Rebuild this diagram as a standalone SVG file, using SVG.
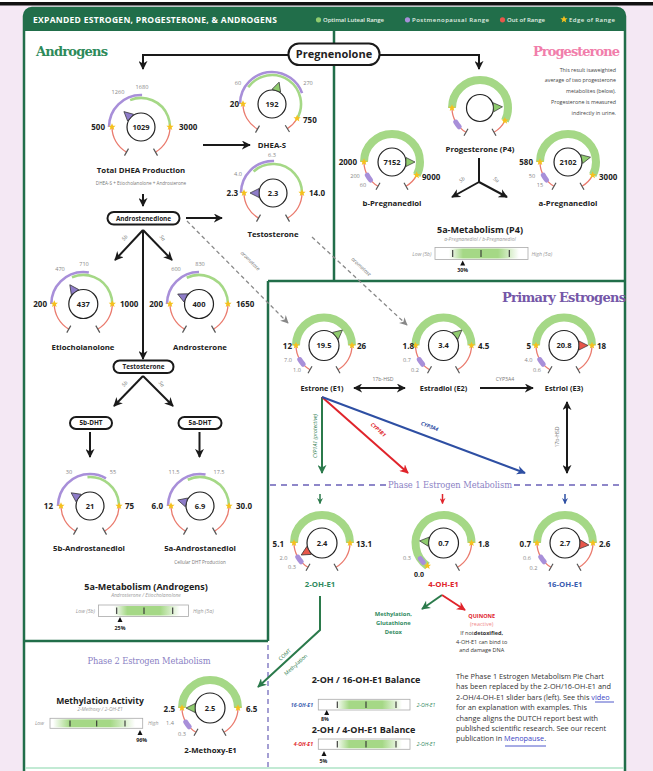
<svg xmlns="http://www.w3.org/2000/svg" width="653" height="771" viewBox="0 0 653 771">
<defs>
<style>
text{font-family:"Open Sans","Liberation Sans",sans-serif;fill:#222}
.t{font-weight:700;font-size:7.8px;text-anchor:middle}
.v{font-weight:700;font-size:7.5px;text-anchor:middle}
.bl{font-weight:700;font-size:8px}
.r{text-anchor:end}
.m{text-anchor:middle}
.gl{font-size:5.6px;fill:#888;text-anchor:middle}
.sub{font-size:4.6px;fill:#777;text-anchor:middle}
.it{font-style:italic}
.ser{font-family:"DejaVu Serif","Liberation Serif",serif;font-weight:700}
.box{fill:#fff;stroke:#1a1a1a;stroke-width:2}
.bt{font-weight:700;font-size:6.4px;text-anchor:middle}
.ic{fill:#fff;stroke:#222;stroke-width:1.2}
.pu{fill:none;stroke:#a88fd9;stroke-width:2.6}
.gr{fill:none;stroke:#a5d886;stroke-width:2.6}
.grk{fill:none;stroke:#a5d886;stroke-width:8}
.rd{fill:none;stroke:#ea7b6e;stroke-width:1.3}
.puk{fill:none;stroke:#a88fd9;stroke-width:5;stroke-linecap:round}
.tk{stroke:#555;stroke-width:1.2}
.pp{fill:#8e7cc9;stroke:#333;stroke-width:0.7}
.pg{fill:#8fcb6e;stroke:#333;stroke-width:0.7}
.pr{fill:#e8574a;stroke:#333;stroke-width:0.7}
.ar{fill:none;stroke:#1a1a1a;stroke-width:2}
.cl{font-size:5.2px;fill:#777;text-anchor:middle;font-style:italic}
.bar{fill:#fff;stroke:#aaa;stroke-width:0.8}
.btk{stroke:#333;stroke-width:1.1}
.bh{font-weight:700;font-size:9px;text-anchor:middle}
.bs{font-size:5px;fill:#999;font-style:italic;text-anchor:middle}
.lo{font-size:5.2px;fill:#999;font-style:italic}
.pct{font-weight:700;font-size:5.3px;text-anchor:middle}
.para{font-size:7.3px;fill:#333}
.lk{fill:#3b46c4}
.lg{font-size:6px;fill:#e4f1e7;font-weight:600}
</style>
<marker id="mk" viewBox="0 0 10 10" refX="9" refY="5" markerWidth="9" markerHeight="9" markerUnits="userSpaceOnUse" orient="auto-start-reverse"><path d="M0,0 L10,5 L0,10 L3,5Z" fill="#1a1a1a"/></marker>
<marker id="mkg" viewBox="0 0 10 10" refX="9" refY="5" markerWidth="9" markerHeight="9" markerUnits="userSpaceOnUse" orient="auto"><path d="M0,0 L10,5 L0,10 L3,5Z" fill="#2b7a4b"/></marker>
<marker id="mkr" viewBox="0 0 10 10" refX="9" refY="5" markerWidth="9" markerHeight="9" markerUnits="userSpaceOnUse" orient="auto"><path d="M0,0 L10,5 L0,10 L3,5Z" fill="#e0242b"/></marker>
<marker id="mkb" viewBox="0 0 10 10" refX="9" refY="5" markerWidth="9" markerHeight="9" markerUnits="userSpaceOnUse" orient="auto"><path d="M0,0 L10,5 L0,10 L3,5Z" fill="#2e4fa3"/></marker>
<marker id="mky" viewBox="0 0 10 10" refX="9" refY="5" markerWidth="8" markerHeight="8" markerUnits="userSpaceOnUse" orient="auto"><path d="M0,0 L10,5 L0,10 L3,5Z" fill="#888"/></marker>
<marker id="sg" viewBox="0 0 10 10" refX="9" refY="5" markerWidth="6" markerHeight="6" markerUnits="userSpaceOnUse" orient="auto"><path d="M0,0 L10,5 L0,10 L3,5Z" fill="#2b7a4b"/></marker>
<marker id="sr" viewBox="0 0 10 10" refX="9" refY="5" markerWidth="6" markerHeight="6" markerUnits="userSpaceOnUse" orient="auto"><path d="M0,0 L10,5 L0,10 L3,5Z" fill="#e0242b"/></marker>
<marker id="sb" viewBox="0 0 10 10" refX="9" refY="5" markerWidth="6" markerHeight="6" markerUnits="userSpaceOnUse" orient="auto"><path d="M0,0 L10,5 L0,10 L3,5Z" fill="#2e4fa3"/></marker>
<linearGradient id="gb"><stop offset="0" stop-color="#a5d886" stop-opacity="0"/><stop offset="0.2" stop-color="#a5d886"/><stop offset="0.7" stop-color="#a5d886"/><stop offset="1" stop-color="#a5d886" stop-opacity="0"/></linearGradient>
<path id="st" d="M0,-3.8 L1.1,-1.2 3.6,-1.2 1.6,0.5 2.3,3.1 0,1.6 -2.3,3.1 -1.6,0.5 -3.6,-1.2 -1.1,-1.2Z" fill="#f5c11d"/>
</defs>

<rect width="653" height="771" fill="#f4e8f4"/>
<rect width="653" height="2" fill="#fff"/>
<rect y="2" width="653" height="3.5" fill="#111"/>

<g id="frame">
<rect x="24" y="8" width="601" height="790" rx="8" fill="#fff" stroke="#216e4a" stroke-width="2.5"/>
<path d="M24,31 V16 A8,8 0 0 1 32,8 H617 A8,8 0 0 1 625,16 V31 Z" fill="#216e4a"/>
<path d="M334,31 V281 M268,281 H625 M268,281 V641 M24,641 H268" fill="none" stroke="#216e4a" stroke-width="2.5"/>
<line x1="25" y1="768" x2="624" y2="768" stroke="#aee3c6" stroke-width="1.5"/>
<line x1="268" y1="645" x2="268" y2="771" stroke="#8e87c9" stroke-width="1.6" stroke-dasharray="5 4"/>
</g>

<g id="header">
<text x="33" y="22.5" fill="#fff" style="fill:#fff;font-weight:700;font-size:8.5px" textLength="244">EXPANDED ESTROGEN, PROGESTERONE, &amp; ANDROGENS</text>
<circle cx="318.5" cy="19.8" r="2.6" fill="#8fcb6e"/><text class="lg" x="323" y="22" textLength="61">Optimal Luteal Range</text>
<circle cx="407.5" cy="19.8" r="2.6" fill="#a88fd9"/><text class="lg" x="412" y="22" textLength="77">Postmenopausal Range</text>
<circle cx="502.5" cy="19.8" r="2.6" fill="#e8574a"/><text class="lg" x="507" y="22" textLength="38">Out of Range</text>
<use href="#st" x="564" y="19.5"/><text class="lg" x="569" y="22" textLength="46">Edge of Range</text>
</g>

<g id="titles">
<text class="ser" x="36" y="56" style="fill:#2d8a5a;font-size:13px" textLength="72">Androgens</text>
<text class="ser" x="620" y="56" style="fill:#f17eab;font-size:13px" text-anchor="end" textLength="87">Progesterone</text>
<text class="ser" x="502" y="302" style="fill:#7557a8;font-size:13px" textLength="124">Primary Estrogens</text>
<text x="450" y="488" style="font-family:'DejaVu Serif','Liberation Serif',serif;font-size:8.3px;fill:#8a7fc4" text-anchor="middle" textLength="124">Phase 1 Estrogen Metabolism</text>
<text x="149" y="663.5" style="font-family:'DejaVu Serif','Liberation Serif',serif;font-size:8.3px;fill:#8a7fc4" text-anchor="middle" textLength="123">Phase 2 Estrogen Metabolism</text>
<path d="M270,485 H386 M514,485 H624" fill="none" stroke="#8e87c9" stroke-width="1.8" stroke-dasharray="6 5"/>
</g>

<g id="connectors">
<path class="ar" d="M288.5,55 H143 V69" marker-end="url(#mk)"/>
<path class="ar" d="M379.5,55 H479 V69" marker-end="url(#mk)"/>
<path class="ar" d="M203,145 H250" marker-end="url(#mk)"/>
<path class="ar" d="M143,194 V206" marker-end="url(#mk)"/>
<path class="ar" d="M186,218 H222" marker-end="url(#mk)"/>
<path class="ar" d="M143,230 L115,260" marker-end="url(#mk)"/>
<path class="ar" d="M143,230 L172,260" marker-end="url(#mk)"/>
<path class="ar" d="M143,230 V359" marker-end="url(#mk)"/>
<path class="ar" d="M143,376 L114,406" marker-end="url(#mk)"/>
<path class="ar" d="M143,376 L173,406" marker-end="url(#mk)"/>
<path class="ar" d="M90,432 V457" marker-end="url(#mk)"/>
<path class="ar" d="M199.5,432 V457" marker-end="url(#mk)"/>
<path class="ar" d="M479,158 V182"/>
<path class="ar" d="M479,182 L452,197" marker-end="url(#mk)"/>
<path class="ar" d="M479,182 L507,197" marker-end="url(#mk)"/>
<path d="M187,221 L288,323" fill="none" stroke="#888" stroke-width="1.3" stroke-dasharray="4 3" marker-end="url(#mky)"/>
<path d="M312,237 L407,325" fill="none" stroke="#888" stroke-width="1.3" stroke-dasharray="4 3" marker-end="url(#mky)"/>
<path class="ar" d="M354,388 H405" stroke-width="1.8" marker-start="url(#mk)" marker-end="url(#mk)"/>
<path class="ar" d="M480,388 H533" stroke-width="1.8" marker-end="url(#mk)"/>
<path class="ar" d="M567,402 V473" stroke-width="1.8" marker-start="url(#mk)" marker-end="url(#mk)"/>
<path d="M322,397 V473" fill="none" stroke="#2b7a4b" stroke-width="2" marker-end="url(#mkg)"/>
<path d="M322,397 L408,473" fill="none" stroke="#e0242b" stroke-width="2" marker-end="url(#mkr)"/>
<path d="M322,397 L525,473" fill="none" stroke="#2e4fa3" stroke-width="2" marker-end="url(#mkb)"/>
<path d="M320,494 V503.5" fill="none" stroke="#2b7a4b" stroke-width="1.5" marker-end="url(#sg)"/>
<path d="M442.5,494 V503.5" fill="none" stroke="#e0242b" stroke-width="1.5" marker-end="url(#sr)"/>
<path d="M565,494 V503.5" fill="none" stroke="#2e4fa3" stroke-width="1.5" marker-end="url(#sb)"/>
<path d="M442,595 L422,609" fill="none" stroke="#2b7a4b" stroke-width="2" marker-end="url(#mkg)"/>
<path d="M442,595 L465,610" fill="none" stroke="#e0242b" stroke-width="2" marker-end="url(#mkr)"/>
<path d="M320,596 V630 L258,687" fill="none" stroke="#2b7a4b" stroke-width="2" marker-end="url(#mkg)"/>
<text class="cl" transform="translate(126,239) rotate(-50)">5b</text>
<text class="cl" transform="translate(161,239) rotate(50)">5a</text>
<text class="cl" transform="translate(126,385) rotate(-50)">5b</text>
<text class="cl" transform="translate(160,385) rotate(50)">5a</text>
<text class="cl" transform="translate(463,181) rotate(-40)">5b</text>
<text class="cl" transform="translate(495,181) rotate(40)">5a</text>
<text class="cl" transform="translate(249,262) rotate(45)">aromatase</text>
<text class="cl" transform="translate(360,268) rotate(43)">aromatase</text>
<text class="cl" x="383" y="381" style="font-style:normal">17b-HSD</text>
<text class="cl" x="505" y="381" style="font-style:normal">CYP3A4</text>
<text class="cl" transform="translate(559,437) rotate(-90)" style="font-style:normal">17b-HSD</text>
<text class="cl" transform="translate(317,436) rotate(-90)" style="fill:#2b7a4b">CYP1A1 (protective)</text>
<text class="cl" transform="translate(377,431) rotate(41.5)" style="fill:#e0242b;font-weight:700">CYP1B1</text>
<text class="cl" transform="translate(429,428) rotate(20.5)" style="fill:#2e4fa3;font-weight:700">CYP3A4</text>
<text class="cl" transform="translate(286,656) rotate(-42.6)" style="fill:#2b7a4b;font-style:normal">COMT</text>
<text class="cl" transform="translate(297,666) rotate(-42.6)" style="fill:#2b7a4b;font-style:normal">Methylation</text>
</g>

<g id="pregnenolone"><rect class="box" x="288.5" y="43.5" width="91" height="21.5" rx="10.5" stroke-width="2.5"/><text x="334" y="58.3" style="font-weight:700;font-size:11px" text-anchor="middle">Pregnenolone</text></g>
<g id="androstenedione"><rect class="box" x="107.5" y="212" width="72" height="12.5" rx="6.25"/><text class="bt" x="143.5" y="220.6">Androstenedione</text></g>
<g id="testosterone-box"><rect class="box" x="113.5" y="360.5" width="60" height="12.5" rx="6.25"/><text class="bt" x="143.5" y="369.2">Testosterone</text></g>
<g id="dht-5b"><rect class="box" x="70" y="417" width="42" height="12" rx="6"/><text class="bt" x="91" y="425.3">5b-DHT</text></g>
<g id="dht-5a"><rect class="box" x="178.5" y="417" width="43" height="12" rx="6"/><text class="bt" x="200" y="425.3">5a-DHT</text></g>

<g id="total-dhea">
<g transform="translate(141,127)">
<circle class="pu" r="32" pathLength="360" stroke-dasharray="92 400" transform="rotate(180)"/>
<circle class="gr" r="29" pathLength="360" stroke-dasharray="112 400" transform="rotate(248)"/>
<circle class="rd" r="29" pathLength="360" stroke-dasharray="60 400" transform="rotate(120)"/>
<circle class="rd" r="29" pathLength="360" stroke-dasharray="60 400"/>
<line class="tk" x1="25" x2="33" transform="rotate(120)"/><line class="tk" x1="25" x2="33" transform="rotate(60)"/>
<use href="#st" x="-29"/><use href="#st" x="29"/>
<circle class="ic" r="14"/>
<polygon class="pp" points="14,-4.5 23,0 14,4.5" transform="rotate(222)"/>
<text class="v" y="2.7">1029</text>
</g>
<text class="gl" x="118" y="94">1260</text><text class="gl" x="142" y="89">1680</text>
<text class="bl r" x="105" y="130">500</text><text class="bl" x="179" y="130">3000</text>
<text class="t" x="141" y="172.5">Total DHEA Production</text>
<text class="sub" x="141" y="184.5">DHEA-S + Etiocholanolone + Androsterone</text>
</g>

<g id="dhea-s">
<g transform="translate(272,104)">
<circle class="pu" r="32" pathLength="360" stroke-dasharray="160 400" transform="rotate(180)"/>
<circle class="gr" r="29" pathLength="360" stroke-dasharray="175 400" transform="rotate(215)"/>
<circle class="rd" r="29" pathLength="360" stroke-dasharray="60 400" transform="rotate(120)"/>
<circle class="rd" r="29" pathLength="360" stroke-dasharray="28 400" transform="rotate(30)"/>
<line class="tk" x1="25" x2="33" transform="rotate(120)"/><line class="tk" x1="25" x2="33" transform="rotate(58)"/>
<use href="#st" x="-29"/><use href="#st" x="25.1" y="14.5"/>
<circle class="ic" r="14"/>
<polygon class="pg" points="14,-4.5 23,0 14,4.5" transform="rotate(-72)"/>
<text class="v" y="2.7">192</text>
</g>
<text class="gl" x="238" y="85">60</text><text class="gl" x="308" y="85">270</text>
<text class="bl r" x="239" y="107">20</text><text class="bl" x="303" y="123">750</text>
<text class="t" x="272" y="148">DHEA-S</text>
</g>

<g id="testosterone">
<g transform="translate(273,193)">
<circle class="pu" r="32" pathLength="360" stroke-dasharray="92 400" transform="rotate(180)"/>
<circle class="gr" r="29" pathLength="360" stroke-dasharray="132 400" transform="rotate(228)"/>
<circle class="rd" r="29" pathLength="360" stroke-dasharray="60 400" transform="rotate(120)"/>
<circle class="rd" r="29" pathLength="360" stroke-dasharray="60 400"/>
<line class="tk" x1="25" x2="33" transform="rotate(120)"/><line class="tk" x1="25" x2="33" transform="rotate(60)"/>
<use href="#st" x="-29"/><use href="#st" x="29"/>
<circle class="ic" r="14"/>
<polygon class="pp" points="14,-4.5 23,0 14,4.5" transform="rotate(180)"/>
<text class="v" y="2.7">2.3</text>
</g>
<text class="gl" x="238" y="176">4.0</text><text class="gl" x="272" y="157">6.3</text>
<text class="bl r" x="238" y="196">2.3</text><text class="bl" x="309" y="196">14.0</text>
<text class="t" x="273" y="237">Testosterone</text>
</g>

<g id="etiocholanolone">
<g transform="translate(83.3,304)">
<circle class="pu" r="32" pathLength="360" stroke-dasharray="100 400" transform="rotate(180)"/>
<circle class="gr" r="29" pathLength="360" stroke-dasharray="113 400" transform="rotate(247)"/>
<circle class="rd" r="29" pathLength="360" stroke-dasharray="60 400" transform="rotate(120)"/>
<circle class="rd" r="29" pathLength="360" stroke-dasharray="60 400"/>
<line class="tk" x1="25" x2="33" transform="rotate(120)"/><line class="tk" x1="25" x2="33" transform="rotate(60)"/>
<use href="#st" x="-29"/><use href="#st" x="29"/>
<circle class="ic" r="14.5"/>
<polygon class="pp" points="14.5,-4.5 23.5,0 14.5,4.5" transform="rotate(235)"/>
<text class="v" y="2.7">437</text>
</g>
<text class="gl" x="60" y="271">470</text><text class="gl" x="84" y="266">710</text>
<text class="bl r" x="47" y="307">200</text><text class="bl" x="120" y="307">1000</text>
<text class="t" x="83" y="349.5">Etiocholanolone</text>
</g>

<g id="androsterone">
<g transform="translate(199,304)">
<circle class="pu" r="32" pathLength="360" stroke-dasharray="90 400" transform="rotate(180)"/>
<circle class="gr" r="29" pathLength="360" stroke-dasharray="115 400" transform="rotate(245)"/>
<circle class="rd" r="29" pathLength="360" stroke-dasharray="60 400" transform="rotate(120)"/>
<circle class="rd" r="29" pathLength="360" stroke-dasharray="60 400"/>
<line class="tk" x1="25" x2="33" transform="rotate(120)"/><line class="tk" x1="25" x2="33" transform="rotate(60)"/>
<use href="#st" x="-29"/><use href="#st" x="29"/>
<circle class="ic" r="14.5"/>
<polygon class="pp" points="14.5,-4.5 23.5,0 14.5,4.5" transform="rotate(205)"/>
<text class="v" y="2.7">400</text>
</g>
<text class="gl" x="176" y="271">600</text><text class="gl" x="200" y="266">830</text>
<text class="bl r" x="163" y="307">200</text><text class="bl" x="236" y="307">1650</text>
<text class="t" x="200" y="349.5">Androsterone</text>
</g>

<g id="androstanediol-5b">
<g transform="translate(90,506)">
<circle class="pu" r="32" pathLength="360" stroke-dasharray="120 400" transform="rotate(180)"/>
<circle class="gr" r="29" pathLength="360" stroke-dasharray="95 400" transform="rotate(265)"/>
<circle class="rd" r="29" pathLength="360" stroke-dasharray="60 400" transform="rotate(120)"/>
<circle class="rd" r="29" pathLength="360" stroke-dasharray="60 400"/>
<line class="tk" x1="25" x2="33" transform="rotate(120)"/><line class="tk" x1="25" x2="33" transform="rotate(60)"/>
<use href="#st" x="-29"/><use href="#st" x="29"/>
<circle class="ic" r="14"/>
<polygon class="pp" points="14,-4.5 23,0 14,4.5" transform="rotate(215)"/>
<text class="v" y="2.7">21</text>
</g>
<text class="gl" x="69" y="474">30</text><text class="gl" x="113" y="474">55</text>
<text class="bl r" x="53" y="509">12</text><text class="bl" x="125" y="509">75</text>
<text class="t" x="89" y="550.5">5b-Androstanediol</text>
</g>

<g id="androstanediol-5a">
<g transform="translate(200,506)">
<circle class="pu" r="32" pathLength="360" stroke-dasharray="100 400" transform="rotate(180)"/>
<circle class="gr" r="29" pathLength="360" stroke-dasharray="115 400" transform="rotate(245)"/>
<circle class="rd" r="29" pathLength="360" stroke-dasharray="60 400" transform="rotate(120)"/>
<circle class="rd" r="29" pathLength="360" stroke-dasharray="60 400"/>
<line class="tk" x1="25" x2="33" transform="rotate(120)"/><line class="tk" x1="25" x2="33" transform="rotate(60)"/>
<use href="#st" x="-29"/><use href="#st" x="29"/>
<circle class="ic" r="14"/>
<polygon class="pp" points="14,-4.5 23,0 14,4.5" transform="rotate(195)"/>
<text class="v" y="2.7">6.9</text>
</g>
<text class="gl" x="174" y="474">11.5</text><text class="gl" x="219" y="474">17.5</text>
<text class="bl r" x="163" y="509">6.0</text><text class="bl" x="236" y="509">30.0</text>
<text class="t" x="200" y="550.5">5a-Androstanediol</text>
<text class="sub" x="200" y="563.5">Cellular DHT Production</text>
</g>

<g id="metab-androgens">
<text class="bh" x="146" y="589.5">5a-Metabolism (Androgens)</text>
<text class="bs" x="146" y="597">Androsterone / Etiocholanolone</text>
<rect class="bar" x="98.5" y="605" width="90" height="11.5"/>
<rect x="114" y="606" width="66" height="9.5" fill="url(#gb)"/>
<path class="btk" d="M116.7,607.5 V614 M144,607.5 V614 M172.7,607.5 V614"/>
<text class="lo" x="95" y="612.5" text-anchor="end">Low (5b)</text>
<text class="lo" x="193" y="612.5">High (5a)</text>
<polygon points="117.5,622 120,617 122.5,622" fill="#111"/>
<text class="pct" x="120" y="629.5">25%</text>
</g>

<g id="progesterone">
<g transform="translate(480,108)">
<circle class="grk" r="28" pathLength="360" stroke-dasharray="207 400" transform="rotate(180)"/>
<circle class="rd" r="28" pathLength="360" stroke-dasharray="60 400" transform="rotate(120)"/>
<circle class="rd" r="28" pathLength="360" stroke-dasharray="33 400" transform="rotate(27)"/>
<circle class="puk" r="28" pathLength="360" stroke-dasharray="12 400" transform="rotate(138)"/>
<line class="tk" x1="24" x2="32" transform="rotate(120)"/><line class="tk" x1="24" x2="32" transform="rotate(60)"/>
<use href="#st" x="-28"/><use href="#st" x="24.9" y="12.7"/>
<circle class="ic" r="13.5"/>
<polygon class="pg" points="13.5,-4.5 22.5,0 13.5,4.5" transform="rotate(-3)"/>
</g>
<text class="t" x="480" y="152">Progesterone (P4)</text>
<g style="font-size:5.3px;fill:#444" text-anchor="end">
<text x="616" y="71.5" style="fill:#444">This result isaweighted</text>
<text x="616" y="81.5" style="fill:#444">average of two progesterone</text>
<text x="616" y="92.5" style="fill:#444">metabolites (below).</text>
<text x="616" y="103.5" style="fill:#444">Progesterone is measured</text>
<text x="616" y="114.5" style="fill:#444">indirectly in urine.</text>
</g>
</g>

<g id="b-pregnanediol">
<g transform="translate(392,162)">
<circle class="grk" r="28" pathLength="360" stroke-dasharray="208 400" transform="rotate(180)"/>
<circle class="rd" r="28" pathLength="360" stroke-dasharray="60 400" transform="rotate(120)"/>
<circle class="rd" r="28" pathLength="360" stroke-dasharray="32 400" transform="rotate(28)"/>
<circle class="puk" r="28" pathLength="360" stroke-dasharray="12 400" transform="rotate(140)"/>
<line class="tk" x1="24" x2="32" transform="rotate(120)"/><line class="tk" x1="24" x2="32" transform="rotate(60)"/>
<use href="#st" x="-28"/><use href="#st" x="24.7" y="13.1"/>
<circle class="ic" r="14"/>
<polygon class="pg" points="14,-4.5 23,0 14,4.5"/>
<text class="v" y="2.7">7152</text>
</g>
<text class="bl r" x="357" y="165">2000</text><text class="bl" x="422" y="180">9000</text>
<text class="gl" x="355" y="178">200</text><text class="gl" x="363" y="187">60</text>
<text class="t" x="392" y="206">b-Pregnanediol</text>
</g>

<g id="a-pregnanediol">
<g transform="translate(568,162)">
<circle class="grk" r="28" pathLength="360" stroke-dasharray="208 400" transform="rotate(180)"/>
<circle class="rd" r="28" pathLength="360" stroke-dasharray="60 400" transform="rotate(120)"/>
<circle class="rd" r="28" pathLength="360" stroke-dasharray="32 400" transform="rotate(28)"/>
<circle class="puk" r="28" pathLength="360" stroke-dasharray="12 400" transform="rotate(140)"/>
<line class="tk" x1="24" x2="32" transform="rotate(120)"/><line class="tk" x1="24" x2="32" transform="rotate(60)"/>
<use href="#st" x="-28"/><use href="#st" x="24.7" y="13.1"/>
<circle class="ic" r="14"/>
<polygon class="pg" points="14,-4.5 23,0 14,4.5" transform="rotate(-12)"/>
<text class="v" y="2.7">2102</text>
</g>
<text class="bl r" x="533" y="165">580</text><text class="bl" x="599" y="180">3000</text>
<text class="gl" x="532" y="178">50</text><text class="gl" x="540" y="187">15</text>
<text class="t" x="568" y="206">a-Pregnanediol</text>
</g>

<g id="metab-p4">
<text class="bh" x="480" y="233">5a-Metabolism (P4)</text>
<text class="bs" x="480" y="240.5">a-Pregnanediol / b-Pregnanediol</text>
<rect class="bar" x="435" y="247.5" width="93" height="12"/>
<rect x="449" y="248.5" width="70" height="10" fill="url(#gb)"/>
<path class="btk" d="M452.7,250 V257 M481,250 V257 M509.3,250 V257"/>
<text class="lo" x="431.5" y="255.5" text-anchor="end">Low (5b)</text>
<text class="lo" x="531.5" y="255.5">High (5a)</text>
<polygon points="460.2,265.5 462.7,260.5 465.2,265.5" fill="#111"/>
<text class="pct" x="462.7" y="272">30%</text>
</g>

<g id="estrone">
<g transform="translate(324,345.5)">
<circle class="grk" r="28" pathLength="360" stroke-dasharray="180 400" transform="rotate(180)"/>
<circle class="rd" r="28" pathLength="360" stroke-dasharray="60 400" transform="rotate(120)"/>
<circle class="rd" r="28" pathLength="360" stroke-dasharray="60 400"/>
<circle class="puk" r="28" pathLength="360" stroke-dasharray="12 400" transform="rotate(138)"/>
<line class="tk" x1="24" x2="32" transform="rotate(120)"/><line class="tk" x1="24" x2="32" transform="rotate(60)"/>
<use href="#st" x="-28"/><use href="#st" x="28"/>
<circle class="ic" r="15"/>
<polygon class="pg" points="15,-4.5 24,0 15,4.5" transform="rotate(-40)"/>
<text class="v" y="2.7">19.5</text>
</g>
<text class="bl r" x="292" y="349">12</text><text class="bl" x="357" y="349">26</text>
<text class="gl" x="288" y="362">7.0</text><text class="gl" x="297" y="372">1.0</text>
<text class="t" x="322" y="391" style="font-size:7.3px">Estrone (E1)</text>
</g>

<g id="estradiol">
<g transform="translate(443.5,345.5)">
<circle class="grk" r="28" pathLength="360" stroke-dasharray="180 400" transform="rotate(180)"/>
<circle class="rd" r="28" pathLength="360" stroke-dasharray="60 400" transform="rotate(120)"/>
<circle class="rd" r="28" pathLength="360" stroke-dasharray="60 400"/>
<circle class="puk" r="28" pathLength="360" stroke-dasharray="12 400" transform="rotate(138)"/>
<line class="tk" x1="24" x2="32" transform="rotate(120)"/><line class="tk" x1="24" x2="32" transform="rotate(60)"/>
<use href="#st" x="-28"/><use href="#st" x="28"/>
<circle class="ic" r="15"/>
<polygon class="pg" points="15,-4.5 24,0 15,4.5" transform="rotate(-40)"/>
<text class="v" y="2.7">3.4</text>
</g>
<text class="bl r" x="414" y="349">1.8</text><text class="bl" x="478" y="349">4.5</text>
<text class="gl" x="407" y="362">0.7</text><text class="gl" x="415" y="372">0.2</text>
<text class="t" x="443.5" y="391" style="font-size:7.3px">Estradiol (E2)</text>
</g>

<g id="estriol">
<g transform="translate(564,345.5)">
<circle class="grk" r="28" pathLength="360" stroke-dasharray="180 400" transform="rotate(180)"/>
<circle class="rd" r="28" pathLength="360" stroke-dasharray="60 400" transform="rotate(120)"/>
<circle class="rd" r="28" pathLength="360" stroke-dasharray="60 400"/>
<circle class="puk" r="28" pathLength="360" stroke-dasharray="12 400" transform="rotate(138)"/>
<line class="tk" x1="24" x2="32" transform="rotate(120)"/><line class="tk" x1="24" x2="32" transform="rotate(60)"/>
<use href="#st" x="-28"/><use href="#st" x="28"/>
<circle class="ic" r="15"/>
<polygon class="pr" points="15,-4.5 24,0 15,4.5"/>
<text class="v" y="2.7">20.8</text>
</g>
<text class="bl r" x="531" y="349">5</text><text class="bl" x="597" y="349">18</text>
<text class="gl" x="528.5" y="362">4.0</text><text class="gl" x="537" y="372">0.6</text>
<text class="t" x="564" y="391" style="font-size:7.3px">Estriol (E3)</text>
</g>

<g id="oh2-e1">
<g transform="translate(322,543)">
<circle class="grk" r="28" pathLength="360" stroke-dasharray="180 400" transform="rotate(180)"/>
<circle class="rd" r="28" pathLength="360" stroke-dasharray="60 400" transform="rotate(120)"/>
<circle class="rd" r="28" pathLength="360" stroke-dasharray="60 400"/>
<circle class="puk" r="28" pathLength="360" stroke-dasharray="12 400" transform="rotate(138)"/>
<line class="tk" x1="24" x2="32" transform="rotate(120)"/><line class="tk" x1="24" x2="32" transform="rotate(60)"/>
<use href="#st" x="-28"/><use href="#st" x="28"/>
<circle class="ic" r="15"/>
<polygon class="pr" points="15,-4.5 24,0 15,4.5" transform="rotate(150)"/>
<text class="v" y="2.7">2.4</text>
</g>
<text class="bl r" x="284" y="546.5">5.1</text><text class="bl" x="356" y="546.5">13.1</text>
<text class="gl" x="283.5" y="560">2.0</text><text class="gl" x="292" y="569">0.3</text>
<text class="t" x="320" y="587" style="fill:#2f8a5e">2-OH-E1</text>
</g>

<g id="oh4-e1">
<g transform="translate(443.5,543)">
<circle class="grk" r="28" pathLength="360" stroke-dasharray="235 400" transform="rotate(125)"/>
<circle class="puk" r="28" pathLength="360" stroke-dasharray="10 400" transform="rotate(136)"/>
<circle class="rd" r="28" pathLength="360" stroke-dasharray="60 400"/>
<line class="tk" x1="24" x2="32" transform="rotate(60)"/>
<use href="#st" x="-16.1" y="22.9"/><use href="#st" x="28"/>
<circle class="ic" r="15"/>
<polygon class="pg" points="15,-4.5 24,0 15,4.5" transform="rotate(185)"/>
<text class="v" y="2.7">0.7</text>
</g>
<text class="gl" x="407" y="560">0.3</text>
<text class="bl m" x="419" y="576.5" style="font-size:7px">0.0</text>
<text class="bl" x="478" y="546.5">1.8</text>
<text class="t" x="443.5" y="587" style="fill:#e0242b">4-OH-E1</text>
</g>

<g id="oh16-e1">
<g transform="translate(565,543)">
<circle class="grk" r="28" pathLength="360" stroke-dasharray="180 400" transform="rotate(180)"/>
<circle class="rd" r="28" pathLength="360" stroke-dasharray="60 400" transform="rotate(120)"/>
<circle class="rd" r="28" pathLength="360" stroke-dasharray="60 400"/>
<circle class="puk" r="28" pathLength="360" stroke-dasharray="12 400" transform="rotate(138)"/>
<line class="tk" x1="24" x2="32" transform="rotate(120)"/><line class="tk" x1="24" x2="32" transform="rotate(60)"/>
<use href="#st" x="-28"/><use href="#st" x="28"/>
<circle class="ic" r="15"/>
<polygon class="pr" points="15,-4.5 24,0 15,4.5" transform="rotate(5)"/>
<text class="v" y="2.7">2.7</text>
</g>
<text class="bl r" x="531" y="546.5">0.7</text><text class="bl" x="599" y="546.5">2.6</text>
<text class="gl" x="527" y="560">0.6</text><text class="gl" x="533.5" y="569.5">0.2</text>
<text class="t" x="565" y="587" style="fill:#3a5db0">16-OH-E1</text>
</g>

<g id="detox-notes">
<g style="font-size:5.8px;font-weight:700" text-anchor="middle">
<text x="393.3" y="616" style="fill:#2f8a5e">Methylation,</text>
<text x="393.3" y="625" style="fill:#2f8a5e">Glutathione</text>
<text x="393.3" y="634" style="fill:#2f8a5e">Detox</text>
</g>
<g style="font-size:5.5px" text-anchor="middle">
<text x="481.7" y="617.5" style="fill:#e0242b;font-weight:700">QUINONE</text>
<text x="481.7" y="626" style="fill:#f08a8a">(reactive)</text>
<text x="481.7" y="634.5" style="fill:#333">If not<tspan style="font-weight:700">detoxified,</tspan></text>
<text x="481.7" y="643.5" style="fill:#333">4-OH-E1 can bind to</text>
<text x="481.7" y="651.5" style="fill:#333">and damage DNA</text>
</g>
</g>

<g id="methylation-activity">
<text class="bh" x="100" y="704" style="font-size:8.6px">Methylation Activity</text>
<text class="bs" x="100" y="711">2-Methoxy / 2-OH-E1</text>
<rect class="bar" x="50" y="718.3" width="92.7" height="10"/>
<rect x="53" y="719.3" width="82" height="8" fill="url(#gb)"/>
<path class="btk" d="M70,720.5 V726.5 M96.7,720.5 V726.5 M125,720.5 V726.5"/>
<text class="lo" x="44" y="725.3" text-anchor="end">Low</text>
<text class="lo" x="148" y="725.3">High</text>
<polygon points="137.5,735 140,730 142.5,735" fill="#111"/>
<text class="pct" x="141.7" y="741.5">96%</text>
</g>

<g id="methoxy-e1">
<g transform="translate(210,708)">
<circle class="grk" r="28" pathLength="360" stroke-dasharray="180 400" transform="rotate(180)"/>
<circle class="rd" r="28" pathLength="360" stroke-dasharray="60 400" transform="rotate(120)"/>
<circle class="rd" r="28" pathLength="360" stroke-dasharray="60 400"/>
<circle class="puk" r="28" pathLength="360" stroke-dasharray="12 400" transform="rotate(138)"/>
<line class="tk" x1="24" x2="32" transform="rotate(120)"/><line class="tk" x1="24" x2="32" transform="rotate(60)"/>
<use href="#st" x="-28"/><use href="#st" x="28"/>
<circle class="ic" r="15"/>
<polygon class="pg" points="15,-4.5 24,0 15,4.5" transform="rotate(180)"/>
<text class="v" y="2.7">2.5</text>
</g>
<text class="bl r" x="175" y="711.5">2.5</text><text class="bl" x="246" y="711.5">6.5</text>
<text class="gl" x="170" y="725">1.4</text><text class="gl" x="182" y="736">0.3</text>
<text class="t" x="210.5" y="752.5">2-Methoxy-E1</text>
</g>

<g id="balance-16">
<text class="bh" x="366" y="682.5">2-OH / 16-OH-E1 Balance</text>
<rect class="bar" x="318.3" y="699.3" width="91.7" height="10.7"/>
<rect x="336" y="700.3" width="66" height="8.7" fill="url(#gb)"/>
<path class="btk" d="M337.3,701.5 V708 M366,701.5 V708 M396,701.5 V708"/>
<text class="lo" x="313" y="706.5" text-anchor="end" style="fill:#3a5db0;font-weight:700">16-OH-E1</text>
<text class="lo" x="416.5" y="706.5" style="fill:#2f8a5e">2-OH-E1</text>
<polygon points="324.2,715 326.7,710 329.2,715" fill="#111"/>
<text class="pct" x="325" y="721">8%</text>
</g>

<g id="balance-4">
<text class="bh" x="363.5" y="732.5">2-OH / 4-OH-E1 Balance</text>
<rect class="bar" x="318.3" y="739" width="91.7" height="10.3"/>
<rect x="336" y="740" width="66" height="8.3" fill="url(#gb)"/>
<path class="btk" d="M337.3,741 V747.5 M366,741 V747.5 M396,741 V747.5"/>
<text class="lo" x="313" y="746" text-anchor="end" style="fill:#e0242b;font-weight:700">4-OH-E1</text>
<text class="lo" x="416.5" y="746" style="fill:#2f8a5e">2-OH-E1</text>
<polygon points="321.5,756 324,751 326.5,756" fill="#111"/>
<text class="pct" x="323.3" y="763">5%</text>
</g>

<g id="note">
<text class="para" x="456" y="678.5">The Phase 1 Estrogen Metabolism Pie Chart</text>
<text class="para" x="456" y="689">has been replaced by the 2-OH/16-OH-E1 and</text>
<text class="para" x="456" y="699.5">2-OH/4-OH-E1 slider bars (left). See this <tspan class="lk">video</tspan></text>
<text class="para" x="456" y="710">for an explanation with examples. This</text>
<text class="para" x="456" y="721">change aligns the DUTCH report best with</text>
<text class="para" x="456" y="731">published scientific research. See our recent</text>
<text class="para" x="456" y="741">publication in <tspan class="lk">Menopause</tspan>.</text>
<line x1="595" y1="702" x2="614" y2="702" stroke="#3b46c4" stroke-width="0.9"/>
<line x1="505" y1="746" x2="546" y2="746" stroke="#3b46c4" stroke-width="0.9"/>
</g>
</svg>
